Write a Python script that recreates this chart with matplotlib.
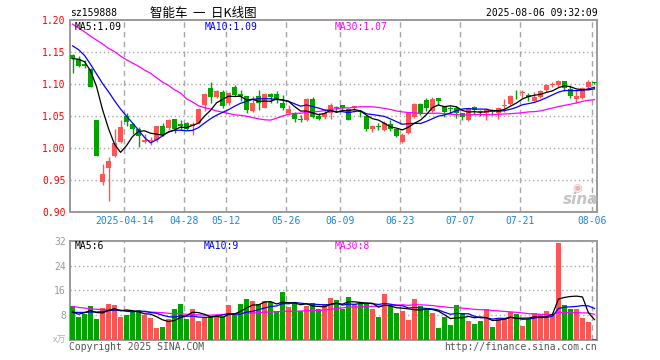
import numpy as np
import pandas as pd
import matplotlib
matplotlib.use('Agg')
import matplotlib.pyplot as plt

# daily candles, 2025-03-31 .. 2025-08-06 (88 trading days)
opens = [1.146, 1.139, 1.131, 1.123, 1.043, 0.946, 0.968, 0.987, 1.010, 1.050,
         1.038, 1.030, 1.010, 1.011, 1.012, 1.035, 1.031, 1.046, 1.038, 1.039,
         1.034, 1.039, 1.068, 1.094, 1.079, 1.087, 1.070, 1.096, 1.085, 1.082,
         1.058, 1.082, 1.063, 1.085, 1.085, 1.071, 1.054, 1.054, 1.046, 1.043,
         1.077, 1.050, 1.048, 1.055, 1.064, 1.067, 1.061, 1.063, 1.058, 1.050,
         1.029, 1.035, 1.028, 1.038, 1.029, 1.009, 1.024, 1.048, 1.069, 1.075,
         1.058, 1.078, 1.065, 1.062, 1.063, 1.054, 1.043, 1.064, 1.057, 1.054,
         1.060, 1.055, 1.065, 1.069, 1.085, 1.086, 1.083, 1.074, 1.079, 1.090,
         1.099, 1.099, 1.105, 1.093, 1.077, 1.078, 1.095, 1.103]
highs = [1.147, 1.144, 1.137, 1.125, 1.043, 0.975, 0.986, 1.029, 1.043, 1.054,
         1.039, 1.033, 1.022, 1.017, 1.035, 1.039, 1.045, 1.046, 1.044, 1.040,
         1.040, 1.062, 1.086, 1.104, 1.091, 1.091, 1.088, 1.099, 1.090, 1.082,
         1.081, 1.091, 1.086, 1.086, 1.089, 1.083, 1.068, 1.057, 1.052, 1.078,
         1.080, 1.054, 1.060, 1.071, 1.065, 1.067, 1.062, 1.066, 1.060, 1.052,
         1.036, 1.039, 1.042, 1.044, 1.030, 1.023, 1.056, 1.070, 1.070, 1.078,
         1.079, 1.078, 1.066, 1.066, 1.065, 1.055, 1.063, 1.066, 1.059, 1.062,
         1.061, 1.064, 1.076, 1.083, 1.091, 1.090, 1.086, 1.088, 1.090, 1.100,
         1.104, 1.106, 1.105, 1.099, 1.091, 1.095, 1.106, 1.104]
lows = [1.118, 1.127, 1.125, 1.095, 0.987, 0.942, 0.917, 0.985, 1.008, 1.035,
        1.022, 1.002, 1.007, 1.004, 1.010, 1.018, 1.028, 1.024, 1.028, 1.028,
        1.021, 1.037, 1.058, 1.071, 1.078, 1.062, 1.068, 1.081, 1.073, 1.055,
        1.057, 1.060, 1.062, 1.070, 1.070, 1.060, 1.052, 1.040, 1.041, 1.042,
        1.047, 1.043, 1.046, 1.046, 1.057, 1.059, 1.043, 1.056, 1.048, 1.026,
        1.025, 1.028, 1.027, 1.027, 1.017, 1.007, 1.022, 1.047, 1.052, 1.058,
        1.056, 1.067, 1.049, 1.053, 1.047, 1.044, 1.042, 1.053, 1.050, 1.044,
        1.051, 1.046, 1.057, 1.068, 1.077, 1.078, 1.074, 1.073, 1.078, 1.088,
        1.096, 1.096, 1.089, 1.078, 1.070, 1.077, 1.094, 1.100]
closes = [1.139, 1.129, 1.129, 1.096, 0.988, 0.959, 0.979, 1.007, 1.032, 1.041,
          1.030, 1.018, 1.013, 1.013, 1.034, 1.021, 1.043, 1.030, 1.035, 1.030,
          1.038, 1.061, 1.085, 1.080, 1.089, 1.065, 1.086, 1.083, 1.082, 1.059,
          1.071, 1.070, 1.085, 1.080, 1.077, 1.062, 1.061, 1.045, 1.044, 1.077,
          1.048, 1.046, 1.055, 1.068, 1.062, 1.062, 1.044, 1.065, 1.056, 1.029,
          1.035, 1.033, 1.039, 1.029, 1.019, 1.021, 1.055, 1.069, 1.054, 1.062,
          1.077, 1.074, 1.056, 1.061, 1.054, 1.048, 1.062, 1.059, 1.056, 1.059,
          1.056, 1.062, 1.068, 1.082, 1.084, 1.088, 1.080, 1.079, 1.089, 1.099,
          1.100, 1.105, 1.094, 1.081, 1.082, 1.094, 1.104, 1.102]
volumes = [10.9, 7.5, 8.3, 10.9, 6.7, 10.2, 11.5, 11.2, 7.5, 8.0,
           9.1, 9.6, 8.0, 7.0, 3.8, 4.2, 6.7, 9.9, 11.5, 6.7,
           9.9, 6.1, 7.3, 7.3, 7.7, 7.7, 11.2, 8.0, 11.5, 13.1,
           12.5, 11.5, 12.5, 12.3, 9.3, 15.4, 10.6, 12.2, 9.3, 10.9,
           11.8, 9.9, 11.5, 13.4, 12.8, 10.1, 13.8, 11.5, 12.3, 11.7,
           9.9, 7.5, 14.7, 11.2, 8.6, 9.3, 6.4, 13.1, 11.0, 9.9,
           8.6, 3.8, 7.4, 4.8, 11.2, 8.6, 6.1, 5.1, 6.1, 9.9,
           4.2, 6.7, 6.7, 9.0, 8.3, 4.5, 6.9, 8.6, 8.4, 9.3,
           8.3, 31.4, 11.2, 9.9, 9.9, 7.0, 5.8, 0.3]

# moving averages before a full window is visible
ma5_head = [1.140, 1.139, 1.135, 1.121]
ma10_head = [1.160, 1.154, 1.145, 1.131, 1.116, 1.101, 1.088, 1.074, 1.061]
ma30_head = [1.194, 1.188, 1.182, 1.175, 1.169, 1.163, 1.156, 1.151, 1.144, 1.138,
             1.133, 1.128, 1.122, 1.117, 1.110, 1.103, 1.098, 1.091, 1.086, 1.077,
             1.072, 1.066, 1.063, 1.061, 1.058, 1.056, 1.054, 1.052, 1.051]
vma5_head = [9.0, 8.3, 8.8, 9.5]
vma10_head = [8.9, 8.9, 8.9, 9.0, 9.0, 9.2, 9.5, 9.6, 9.6]
vma30_head = [10.8, 10.5, 10.3, 10.0, 9.9, 9.8, 9.7, 9.6, 9.5, 9.4,
              9.3, 9.2, 9.1, 9.0, 8.9, 8.8, 8.6, 8.5, 8.4, 8.3,
              8.2, 8.1, 8.0, 8.0, 8.1, 8.2, 8.3, 8.4, 8.5]

tick_idx = [9, 19, 26, 36, 45, 55, 65, 75, 87]
tick_labels = ['2025-04-14', '04-28', '05-12', '05-26', '06-09', '06-23', '07-07', '07-21', '08-06']
price_ticks = [0.90, 0.95, 1.00, 1.05, 1.10, 1.15, 1.20]
vol_ticks = [8, 16, 24, 32]

RED = '#ff5454'
GREEN = '#00a300'
GRID = '#a8a8a8'
MONO = 'DejaVu Sans Mono'
plt.rcParams['font.family'] = [MONO, 'Noto Sans CJK SC']


def moving(vals, n, head):
    m = pd.Series(vals).rolling(n).mean().to_numpy()
    m[:len(head)] = head
    return m


def px(x, y):
    return (x / 660, 1 - y / 360)


n = len(closes)
x = np.arange(n)
o, h, l, c = (np.array(a) for a in (opens, highs, lows, closes))
up = c > o
cols = np.where(up, RED, GREEN)

fig = plt.figure(figsize=(6.6, 3.6), dpi=100)
ax = fig.add_axes([70 / 660, 1 - 211.7 / 360, 527.3 / 660, 191.4 / 360])
axv = fig.add_axes([70 / 660, 1 - 340 / 360, 527.3 / 660, 99.3 / 360])
xlim = (-0.42, 87.47)
gx = [i - 0.35 for i in tick_idx]

for a in (ax, axv):
    a.set_xlim(*xlim)
    for s in a.spines.values():
        s.set_color('#9a9a9a')
        s.set_linewidth(1.4)
    for g in gx:
        a.axvline(g, color=GRID, lw=1, ls=(0, (4, 3)), zorder=0)
    a.tick_params(length=0)

# price panel
ax.set_ylim(0.90, 1.20)
for p in price_ticks[1:-1]:
    ax.axhline(p, color=GRID, lw=1, ls=(0, (1, 2)), zorder=0)
ax.vlines(x, l, h, colors=cols, lw=1, zorder=2)
body = np.maximum(np.abs(c - o), 0.0012)
ax.bar(x, body, bottom=np.minimum(o, c), width=0.8, color=cols, lw=0, zorder=3)
ax.plot(x, moving(closes, 30, ma30_head), color='#ff00ff', lw=0.9, zorder=4)
ax.plot(x, moving(closes, 10, ma10_head), color='#0000ff', lw=0.9, zorder=4)
ax.plot(x, moving(closes, 5, ma5_head), color='black', lw=0.9, zorder=5)
ax.set_yticks(price_ticks)
ax.set_yticklabels([f'{p:.2f}' for p in price_ticks], color='red', fontsize=7)
ax.set_xticks(gx)
ax.set_xticklabels(tick_labels, color='#1f86d6', fontsize=7)
ax.tick_params(axis='y', pad=3)
ax.tick_params(axis='x', pad=3)

# volume panel
axv.set_ylim(0, 32)
for v in vol_ticks[:-1]:
    axv.axhline(v, color=GRID, lw=1, ls=(0, (1, 2)), zorder=0)
axv.bar(x, volumes, width=0.8, color=cols, lw=0, zorder=3)
axv.plot(x, moving(volumes, 30, vma30_head), color='#ff00ff', lw=0.9, zorder=4)
axv.plot(x, moving(volumes, 10, vma10_head), color='#0000ff', lw=0.9, zorder=4)
axv.plot(x, moving(volumes, 5, vma5_head), color='black', lw=0.9, zorder=5)
axv.set_yticks(vol_ticks)
axv.set_yticklabels([str(v) for v in vol_ticks], color='#9a9a9a', fontsize=7)
axv.set_xticks([])
axv.tick_params(axis='y', pad=3)

# header and labels
fig.text(*px(70, 13), 'sz159888', fontsize=7, va='center', ha='left')
fig.text(*px(150, 13), '智能车  一  日K线图', fontsize=9, va='center', ha='left',
         family=['Noto Sans CJK SC', MONO])
fig.text(*px(598, 13), '2025-08-06 09:32:09', fontsize=7, va='center', ha='right')
fig.text(*px(75, 27), 'MA5:1.09', fontsize=7, va='center', color='black')
fig.text(*px(205, 27), 'MA10:1.09', fontsize=7, va='center', color='#0000ff')
fig.text(*px(335, 27), 'MA30:1.07', fontsize=7, va='center', color='#ff00ff')
fig.text(*px(75, 246), 'MA5:6', fontsize=7, va='center', color='black')
fig.text(*px(204, 246), 'MA10:9', fontsize=7, va='center', color='#0000ff')
fig.text(*px(335, 246), 'MA30:8', fontsize=7, va='center', color='#ff00ff')
fig.text(*px(66, 340), 'x万', fontsize=6.5, va='center', ha='right', color='#b0b0b0',
         family=['Noto Sans CJK SC', MONO])
fig.text(*px(69, 347), 'Copyright 2025 SINA.COM', fontsize=7, va='center', color='#555555')
fig.text(*px(597, 347), 'http://finance.sina.com.cn', fontsize=7, va='center',
         ha='right', color='#555555')
# sina watermark
fig.text(*px(581, 199), 'sina', fontsize=11, style='italic', weight='bold', va='center',
         ha='center', color='#c4c4c4', family='DejaVu Sans')
fig.text(*px(577, 188), '◉', fontsize=8, va='center', ha='center', color='#e8b4b4',
         family='DejaVu Sans')

fig.savefig('out.png', dpi=100)
